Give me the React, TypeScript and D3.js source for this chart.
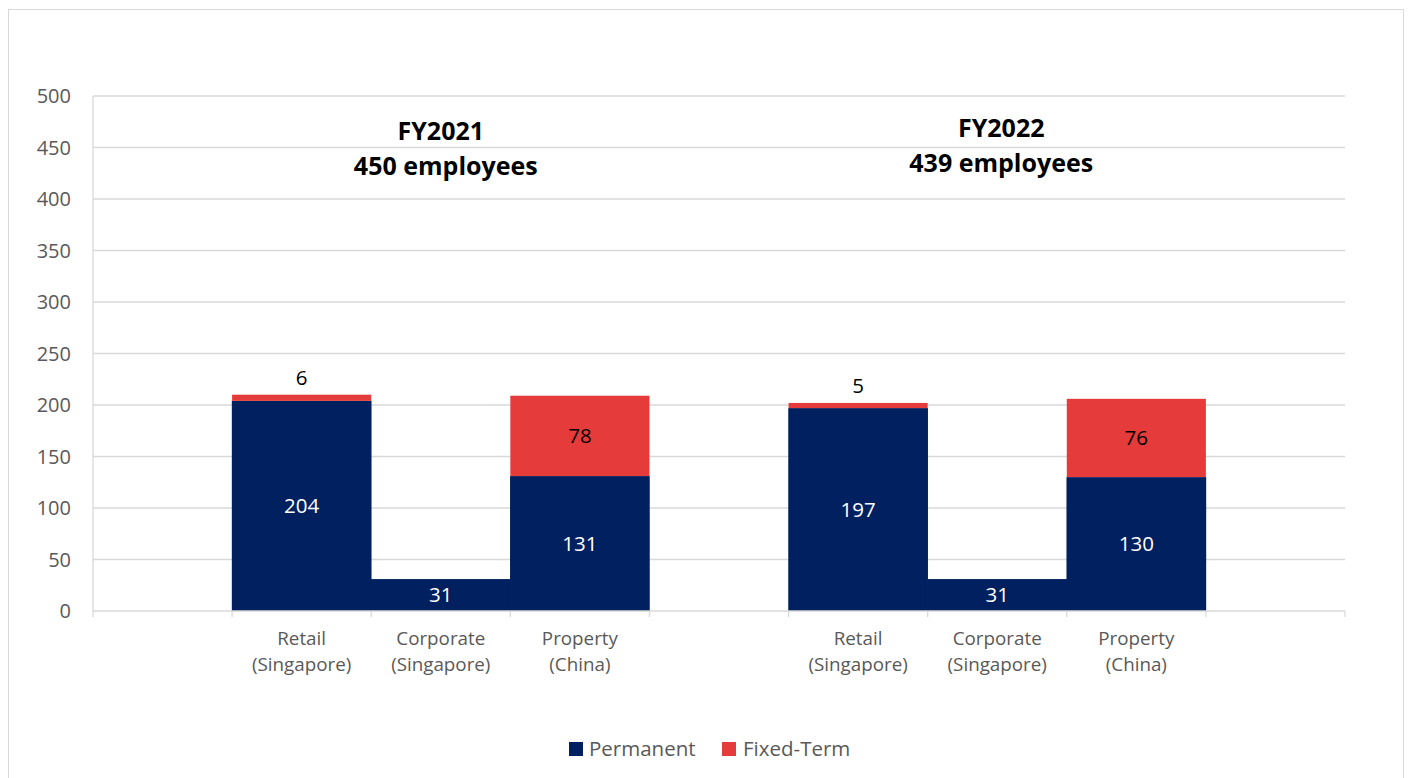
import React from "react";
import * as d3 from "d3";

const slots = ["", "R21", "C21", "P21", "", "R22", "C22", "P22", ""];
const categories = ["R21", "C21", "P21", "R22", "C22", "P22"];
const categoryLabels = [
  ["Retail", "(Singapore)"],
  ["Corporate", "(Singapore)"],
  ["Property", "(China)"],
  ["Retail", "(Singapore)"],
  ["Corporate", "(Singapore)"],
  ["Property", "(China)"],
];
const permanent = [204, 31, 131, 197, 31, 130];
const fixedTerm = [6, 0, 78, 5, 0, 76];
const yTicks = [0, 50, 100, 150, 200, 250, 300, 350, 400, 450, 500];
const titles = [
  { year: "FY2021", total: "450 employees", at: "C21" },
  { year: "FY2022", total: "439 employees", at: "C22" },
];

const W = 1408;
const H = 778;
const left = 93;
const right = 1345;
const top = 96;
const bottom = 611;
const font = "'Open Sans', sans-serif";
const blue = "#002060";
const red = "#E63B3B";

export default function App() {
  const x = d3.scaleBand().domain(slots.map((s, i) => `${i}`)).range([left, right]).padding(0);
  const y = d3.scaleLinear().domain([0, 500]).range([bottom, top]);
  const slotX = (c: string) => x(`${slots.indexOf(c)}`)!;
  const bw = x.bandwidth();

  return (
    <svg width={W} height={H} style={{ position: "absolute", left: 0, top: 0 }}>
      <rect x={0} y={0} width={W} height={H} fill="#fff" />
      <rect x={8.5} y={9.5} width={1395} height={790} fill="none" stroke="#d9d9d9" strokeWidth={1} />
      {yTicks.map((t) => (
        <g key={t}>
          {t > 0 && <line x1={left} x2={right} y1={y(t)} y2={y(t)} stroke="#d9d9d9" strokeWidth={1.3} />}
          <text x={71} y={y(t)} dy="0.36em" textAnchor="end" fontFamily={font} fontSize={20} fill="#595959">
            {t}
          </text>
        </g>
      ))}
      <line x1={left} x2={left} y1={top} y2={bottom} stroke="#d9d9d9" strokeWidth={1.3} />
      {categories.map((c, i) => {
        const x0 = slotX(c);
        const yp = y(permanent[i]);
        const yf = y(permanent[i] + fixedTerm[i]);
        const hasF = fixedTerm[i] > 0;
        const smallF = fixedTerm[i] < 20;
        return (
          <g key={c}>
            <rect x={x0 - 0.3} y={yp} width={bw + 0.6} height={bottom - yp} fill={blue} />
            {hasF && <rect x={x0} y={yf} width={bw} height={yp - yf} fill={red} />}
            <text
              x={x0 + bw / 2}
              y={(yp + bottom) / 2}
              dy="0.36em"
              textAnchor="middle"
              fontFamily={font}
              fontSize={20.5}
              fill="#fff"
            >
              {permanent[i]}
            </text>
            {hasF && (
              <text
                x={x0 + bw / 2}
                y={smallF ? yf - 17 : (yf + yp) / 2}
                dy="0.36em"
                textAnchor="middle"
                fontFamily={font}
                fontSize={20.5}
                fill="#000"
              >
                {fixedTerm[i]}
              </text>
            )}
            <text x={x0 + bw / 2} y={644.5} textAnchor="middle" fontFamily={font} fontSize={18.8} fill="#595959">
              {categoryLabels[i][0]}
            </text>
            <text x={x0 + bw / 2} y={670.5} textAnchor="middle" fontFamily={font} fontSize={18.8} fill="#595959">
              {categoryLabels[i][1]}
            </text>
          </g>
        );
      })}
      <line x1={left} x2={right} y1={bottom} y2={bottom} stroke="#d9d9d9" strokeWidth={1.3} />
      {slots.map((s, i) => (
        <line key={i} x1={x(`${i}`)!} x2={x(`${i}`)!} y1={bottom} y2={bottom + 6} stroke="#d9d9d9" strokeWidth={1.3} />
      ))}
      <line x1={right} x2={right} y1={bottom} y2={bottom + 6} stroke="#d9d9d9" strokeWidth={1.3} />
      {titles.map((t, i) => {
        const cx = slotX(t.at) + bw / 2 + (i === 0 ? 0 : 4);
        const dy = i === 0 ? 0 : -3;
        return (
          <g key={t.year}>
            <text x={cx} y={140 + dy} textAnchor="middle" fontFamily={font} fontWeight="bold" fontSize={25} fill="#000">
              {t.year}
            </text>
            <text x={cx + (i === 0 ? 5 : 0)} y={175 + dy} textAnchor="middle" fontFamily={font} fontWeight="bold" fontSize={25} fill="#000">
              {t.total}
            </text>
          </g>
        );
      })}
      <g>
        <rect x={569} y={742} width={14} height={14} fill={blue} />
        <text x={589} y={756} fontFamily={font} fontSize={20.5} fill="#595959">Permanent</text>
        <rect x={722} y={742} width={14} height={14} fill={red} />
        <text x={743} y={756} fontFamily={font} fontSize={20.5} fill="#595959">Fixed-Term</text>
      </g>
    </svg>
  );
}
